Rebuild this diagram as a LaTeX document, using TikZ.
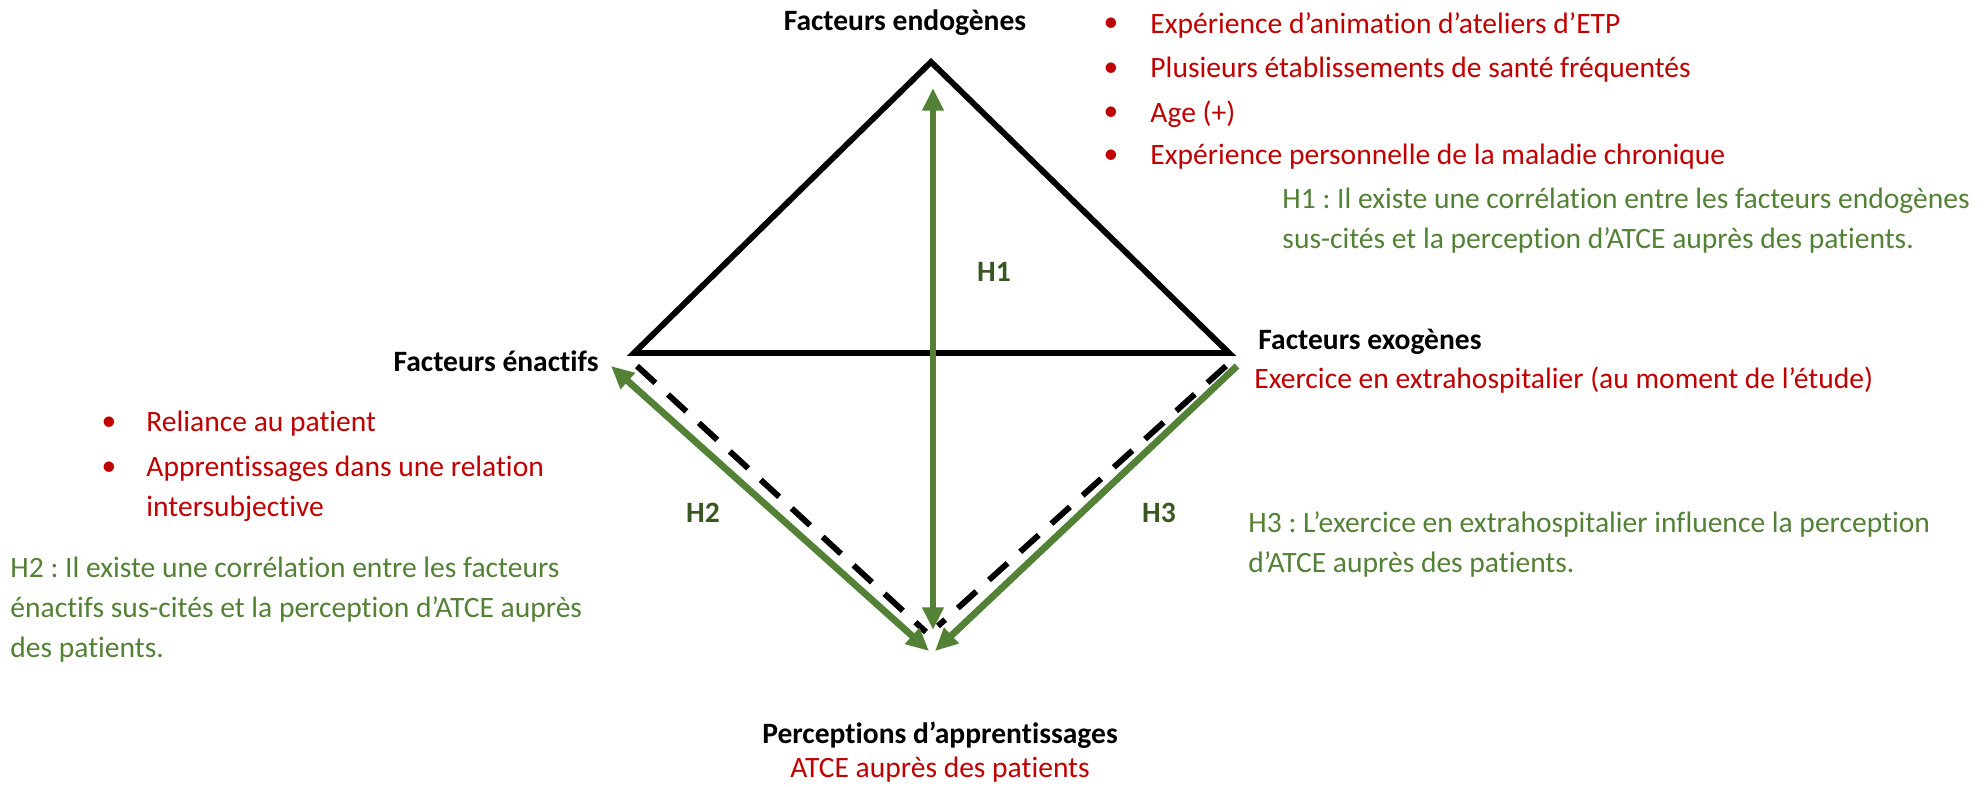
\documentclass[tikz,border=0pt]{standalone}
\usepackage{fontspec}
\setmainfont{Carlito}[Ligatures=NoCommon]
\usetikzlibrary{arrows.meta}
\definecolor{redt}{HTML}{C00000}
\definecolor{grnt}{HTML}{538135}
\definecolor{grnd}{HTML}{385723}
\frenchspacing
\begin{document}
\begin{tikzpicture}[x=0.44pt,y=-0.44pt,
  txt/.style={inner sep=0pt,font=\fontsize{13}{17.6}\selectfont},
  hd/.style={txt,font=\bfseries\fontsize{13}{15}\selectfont,text=black},
  rtxt/.style={txt,text=redt,anchor=west},
  gtxt/.style={txt,text=grnt,anchor=west,align=left},
  hlab/.style={txt,font=\bfseries\fontsize{13}{15}\selectfont,text=grnd},
  bul/.style={txt,text=redt},
  tri/.style={draw=black,line width=2.6pt,line join=miter},
  garr/.style={draw=grnt,line width=3pt,-{Triangle[length=10pt,width=9pt]}},
  garrb/.style={draw=grnt,line width=3pt,{Triangle[length=10pt,width=9pt]}-{Triangle[length=10pt,width=9pt]}},
  dsh/.style={draw=black,line width=2.6pt,dash pattern=on 11pt off 7.5pt}]
\useasboundingbox (0,0) rectangle (1986,786);
% vertices
\coordinate (A) at (931,62);
\coordinate (L) at (634,353);
\coordinate (R) at (1229,353);
\coordinate (VT) at (933,88);
\coordinate (VB) at (933,630);
\coordinate (LT) at (611,366);
\coordinate (LB) at (929,651);
\coordinate (RT) at (1237,366);
\coordinate (RB) at (935,651);
\coordinate (LD1) at (637,366);
\coordinate (LD2) at (926,632);
\coordinate (RD1) at (1226,366);
\coordinate (RD2) at (938,626);
% triangle
\draw[tri] (A) -- (R) -- (L) -- cycle;
% dashed sides
\draw[dsh] (LD1) -- (LD2);
\draw[dsh] (RD1) -- (RD2);
% green arrows
\draw[garrb] (VT) -- (VB);
\draw[garrb] (LB) -- (LT);
\draw[garr] (RT) -- (RB);
% hypothesis labels
\node[hlab] (h1) at (994,272) {H1};
\node[hlab] (h2) at (703,513) {H2};
\node[hlab] (h3) at (1159,513) {H3};
% headings
\node[hd] (endo) at (905,23) {Facteurs endogènes};
\node[hd,anchor=west] (exo) at (1258,342) {Facteurs exogènes};
\node[hd,anchor=east] (enac) at (599,361) {Facteurs énactifs};
\node[hd] (perc) at (940,735) {Perceptions d’apprentissages};
% endogenous list
\node[bul] (b1) at (1111,25) {•};
\node[bul] (b2) at (1111,70) {•};
\node[bul] (b3) at (1111,114) {•};
\node[bul] (b4) at (1111,157) {•};
\node[rtxt] (e1) at (1150,25) {Expérience d’animation d’ateliers d’ETP};
\node[rtxt] (e2) at (1150,70) {Plusieurs établissements de santé fréquentés};
\node[rtxt] (e3) at (1150,114) {Age (+)};
\node[rtxt] (e4) at (1150,157) {Expérience personnelle de la maladie chronique};
\node[gtxt,anchor=north west] (t1) at (1282,188) {H1 : Il existe une corrélation entre les facteurs endogènes\\sus-cités et la perception d’ATCE auprès des patients.};
% exogenous
\node[rtxt] (x1) at (1254,380) {Exercice en extrahospitalier (au moment de l’étude)};
\node[gtxt,anchor=north west] (t3) at (1248,511) {H3 : L’exercice en extrahospitalier influence la perception\\d’ATCE auprès des patients.};
% enactive list
\node[bul] (b5) at (109,424) {•};
\node[bul] (b6) at (109,469) {•};
\node[rtxt] (n1) at (146,424) {Reliance au patient};
\node[rtxt,anchor=north west,align=left] (n2) at (146,456) {Apprentissages dans une relation\\intersubjective};
\node[gtxt,anchor=north west] (t2) at (10,557) {H2 : Il existe une corrélation entre les facteurs\\énactifs sus-cités et la perception d’ATCE auprès\\des patients.};
% perceptions
\node[txt,text=redt] (p1) at (940,770) {ATCE auprès des patients};
\end{tikzpicture}
\end{document}
